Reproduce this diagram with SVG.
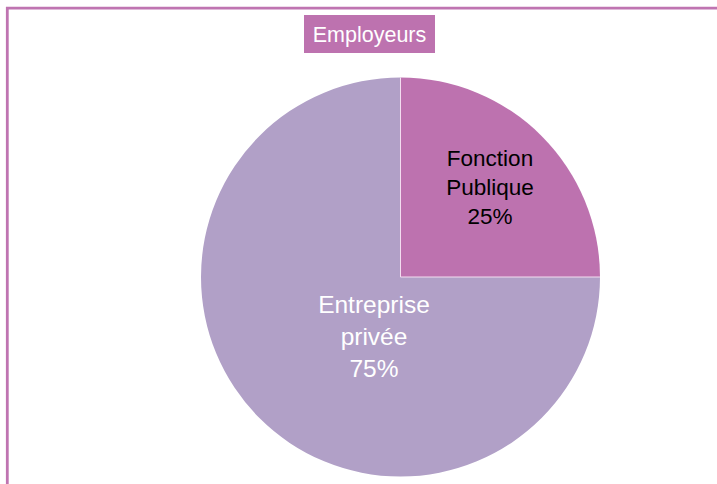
<svg xmlns="http://www.w3.org/2000/svg" width="717" height="484" viewBox="0 0 717 484">
  <style>
    .lbl { font-family: "Liberation Sans", Arial, sans-serif; text-anchor: middle; }
    .frame { stroke: #BF74B1; stroke-width: 2.8; fill: none; }
    .divider { stroke: #F3DDF0; stroke-width: 1; fill: none; }
  </style>
  <rect x="0" y="0" width="717" height="484" fill="#FFFFFF"/>
  <g id="frame">
    <path class="frame" d="M7.3,484 V8.2 H717"/>
  </g>
  <g id="title">
    <rect x="304" y="15" width="131" height="38" fill="#BD72AF"/>
    <text class="lbl" x="369.5" y="42" font-size="21.5" fill="#FFFFFF">Employeurs</text>
  </g>
  <g id="slice-entreprise">
    <path d="M400.5,277 L600,277 A199.5,199.5 0 1 1 400.5,77.5 Z" fill="#B1A0C7"/>
    <text class="lbl" x="374" y="313" font-size="24.5" fill="#FFFFFF">Entreprise</text>
    <text class="lbl" x="374" y="345" font-size="24.5" fill="#FFFFFF">privée</text>
    <text class="lbl" x="374" y="377" font-size="24.5" fill="#FFFFFF">75%</text>
  </g>
  <g id="slice-fonction">
    <path d="M400.5,277 L400.5,77.5 A199.5,199.5 0 0 1 600,277 Z" fill="#BD72AF"/>
    <text class="lbl" x="490" y="166" font-size="22.5" fill="#000000">Fonction</text>
    <text class="lbl" x="490" y="195" font-size="22.5" fill="#000000">Publique</text>
    <text class="lbl" x="490" y="224" font-size="22.5" fill="#000000">25%</text>
  </g>
  <g id="connectors">
    <path class="divider" d="M400.5,77.5 V277 H600"/>
  </g>
</svg>
